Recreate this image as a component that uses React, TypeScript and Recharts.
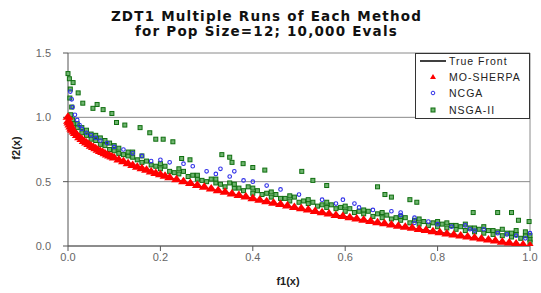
import React from "react";
import {
  ScatterChart,
  Scatter,
  XAxis,
  YAxis,
  CartesianGrid,
  ReferenceLine,
  Legend,
  Label,
} from "recharts";

// f1 / f2 pairs
const frontF1 = [0, 0.01, 0.02, 0.05, 0.1, 0.15, 0.2, 0.25, 0.3, 0.4, 0.5, 0.6, 0.7, 0.8, 0.9, 1.0];
const frontF2 = [1.0, 0.9, 0.86, 0.78, 0.68, 0.61, 0.55, 0.5, 0.45, 0.37, 0.29, 0.23, 0.16, 0.11, 0.05, 0.0];

const sherpaPoints: [number, number][] = [
  [0, 1.0], [0.001, 0.97], [0.002, 0.955], [0.004, 0.94], [0.006, 0.925], [0.008, 0.91],
  [0.01, 0.9], [0.013, 0.886], [0.016, 0.874], [0.02, 0.859], [0.025, 0.842], [0.03, 0.827],
  [0.035, 0.813], [0.04, 0.8], [0.045, 0.788], [0.05, 0.776], [0.055, 0.765], [0.06, 0.755],
  [0.065, 0.745], [0.07, 0.735], [0.075, 0.726], [0.08, 0.717], [0.085, 0.708], [0.09, 0.7],
  [0.095, 0.692], [0.1, 0.684], [0.11, 0.668], [0.12, 0.654], [0.13, 0.639], [0.14, 0.626],
  [0.15, 0.613], [0.16, 0.6], [0.17, 0.588], [0.18, 0.576], [0.19, 0.564], [0.2, 0.553],
  [0.21, 0.542], [0.22, 0.531], [0.235, 0.515], [0.25, 0.5], [0.265, 0.485], [0.28, 0.471],
  [0.295, 0.457], [0.31, 0.443], [0.325, 0.43], [0.34, 0.417], [0.355, 0.404], [0.37, 0.392],
  [0.385, 0.38], [0.4, 0.368], [0.415, 0.356], [0.43, 0.344], [0.445, 0.333], [0.46, 0.322],
  [0.475, 0.311], [0.49, 0.3], [0.505, 0.289], [0.52, 0.279], [0.535, 0.269], [0.55, 0.258],
  [0.565, 0.248], [0.58, 0.238], [0.595, 0.229], [0.61, 0.219], [0.625, 0.209], [0.64, 0.2],
  [0.655, 0.191], [0.67, 0.181], [0.685, 0.172], [0.7, 0.163], [0.715, 0.154], [0.73, 0.146],
  [0.745, 0.137], [0.76, 0.128], [0.775, 0.12], [0.79, 0.111], [0.805, 0.103], [0.82, 0.094],
  [0.835, 0.086], [0.85, 0.078], [0.865, 0.07], [0.88, 0.062], [0.895, 0.054], [0.91, 0.046],
  [0.925, 0.038], [0.94, 0.03], [0.955, 0.023], [0.97, 0.015], [0.985, 0.008], [1.0, 0.0],
];

const ncgaPoints: [number, number][] = [
  [0.005, 1.2], [0.008, 1.14], [0.01, 1.08], [0.015, 1.02], [0.02, 0.98], [0.025, 0.94],
  [0.03, 0.91], [0.04, 0.88], [0.05, 0.86], [0.06, 0.84], [0.07, 0.82], [0.085, 0.8],
  [0.1, 0.77], [0.12, 0.75], [0.14, 0.72], [0.16, 0.7], [0.18, 0.66], [0.2, 0.67],
  [0.22, 0.65], [0.25, 0.64], [0.27, 0.62], [0.3, 0.58], [0.32, 0.56], [0.33, 0.6],
  [0.35, 0.54], [0.36, 0.58], [0.38, 0.51], [0.4, 0.5], [0.43, 0.47], [0.46, 0.44],
  [0.5, 0.4], [0.55, 0.36], [0.58, 0.33], [0.595, 0.36], [0.62, 0.33], [0.63, 0.3],
  [0.66, 0.28], [0.7, 0.27], [0.72, 0.26], [0.72, 0.24], [0.75, 0.22], [0.75, 0.18],
  [0.78, 0.19], [0.8, 0.17], [0.83, 0.15], [0.86, 0.16], [0.87, 0.13], [0.88, 0.12],
  [0.9, 0.13], [0.93, 0.1], [0.95, 0.09], [0.97, 0.08], [0.99, 0.06], [1.0, 0.1],
];

const nsgaPoints: [number, number][] = [
  // cluster near f1 = 0
  [0.0, 1.34], [0.003, 1.3], [0.011, 1.27], [0.005, 1.22], [0.022, 1.19], [0.004, 1.15],
  [0.032, 1.11], [0.008, 1.08], [0.054, 1.07], [0.006, 1.02], [0.01, 0.98], [0.014, 0.95],
  // main band above the front
  [0.02, 0.92], [0.02, 0.95], [0.03, 0.88], [0.03, 0.92], [0.04, 0.86], [0.04, 0.9],
  [0.05, 0.83], [0.05, 0.87], [0.06, 0.82], [0.06, 0.86], [0.07, 0.79], [0.07, 0.84],
  [0.08, 0.78], [0.08, 0.82], [0.09, 0.75], [0.09, 0.8], [0.1, 0.74], [0.1, 0.78],
  [0.11, 0.72], [0.11, 0.76], [0.12, 0.71], [0.13, 0.7], [0.13, 0.73], [0.14, 0.69],
  [0.14, 0.73], [0.15, 0.67], [0.16, 0.65], [0.16, 0.7], [0.17, 0.66], [0.18, 0.63],
  [0.19, 0.62], [0.2, 0.6], [0.2, 0.64], [0.21, 0.62], [0.22, 0.58], [0.23, 0.57],
  [0.24, 0.56], [0.24, 0.6], [0.25, 0.58], [0.26, 0.54], [0.27, 0.55], [0.28, 0.52],
  [0.28, 0.55], [0.29, 0.51], [0.3, 0.5], [0.31, 0.52], [0.32, 0.49], [0.32, 0.52],
  [0.33, 0.48], [0.34, 0.46], [0.35, 0.49], [0.36, 0.45], [0.36, 0.48], [0.37, 0.45],
  [0.38, 0.43], [0.39, 0.46], [0.4, 0.41], [0.4, 0.45], [0.41, 0.43], [0.42, 0.4],
  [0.43, 0.41], [0.44, 0.38], [0.44, 0.42], [0.45, 0.4], [0.46, 0.37], [0.47, 0.37],
  [0.48, 0.35], [0.48, 0.39], [0.49, 0.38], [0.5, 0.34], [0.51, 0.35], [0.52, 0.33],
  [0.52, 0.36], [0.53, 0.34], [0.54, 0.31], [0.55, 0.32], [0.56, 0.3], [0.56, 0.34],
  [0.57, 0.32], [0.58, 0.29], [0.59, 0.3], [0.6, 0.27], [0.6, 0.31], [0.61, 0.29],
  [0.62, 0.26], [0.63, 0.27], [0.64, 0.25], [0.64, 0.28], [0.65, 0.27], [0.66, 0.23],
  [0.67, 0.25], [0.68, 0.22], [0.68, 0.26], [0.69, 0.24], [0.7, 0.21], [0.71, 0.22],
  [0.72, 0.2], [0.72, 0.23], [0.73, 0.22], [0.74, 0.18], [0.75, 0.2], [0.76, 0.17],
  [0.76, 0.21], [0.77, 0.19], [0.78, 0.16], [0.79, 0.18], [0.8, 0.15], [0.8, 0.19],
  [0.81, 0.17], [0.82, 0.14], [0.82, 0.18], [0.83, 0.16], [0.84, 0.13], [0.84, 0.16],
  [0.85, 0.15], [0.86, 0.12], [0.86, 0.17], [0.87, 0.14], [0.88, 0.11], [0.88, 0.14],
  [0.89, 0.13], [0.9, 0.1], [0.9, 0.15], [0.91, 0.12], [0.92, 0.09], [0.92, 0.12],
  [0.93, 0.11], [0.94, 0.08], [0.94, 0.13], [0.95, 0.1], [0.96, 0.07], [0.96, 0.1],
  [0.97, 0.09], [0.97, 0.12], [0.98, 0.06], [0.99, 0.08], [0.99, 0.11], [1.0, 0.05],
  [1.0, 0.03], [1.0, 0.08],
  // outliers
  [0.063, 1.1], [0.076, 1.06], [0.095, 1.03], [0.105, 0.96], [0.123, 0.94], [0.156, 0.92],
  [0.177, 0.88], [0.19, 0.83], [0.206, 0.83], [0.227, 0.81], [0.246, 0.68], [0.264, 0.67],
  [0.333, 0.71], [0.35, 0.69], [0.355, 0.65], [0.379, 0.64], [0.4, 0.61], [0.426, 0.59],
  [0.506, 0.58], [0.53, 0.51], [0.56, 0.47], [0.67, 0.46], [0.686, 0.4], [0.7, 0.38],
  [0.74, 0.36], [0.755, 0.34], [0.877, 0.26], [0.93, 0.26], [0.96, 0.26], [0.975, 0.2],
  [0.998, 0.19],
];

const xTicks = [0, 0.2, 0.4, 0.6, 0.8, 1.0];
const yTicks = [0, 0.5, 1.0, 1.5];

const titleLines = ["ZDT1 Multiple Runs of Each Method", "for Pop Size=12; 10,000 Evals"];
const legendNames = ["True Front", "MO-SHERPA", "NCGA", "NSGA-II"];

const toRows = (pts: [number, number][]) => pts.map(([f1, f2]) => ({ f1, f2 }));
const frontRows = frontF1.map((f1, i) => ({ f1, f2: frontF2[i] }));

const RED = "#ff0000";
const BLUE = "#2f2fe8";
const GREEN = "#0f6e0f";
const GREEN_FILL = "#6fb46f";

// wide, flat triangles so neighbouring markers merge into a solid band
const Triangle = (p: any) => (
  <polygon
    points={`${p.cx},${p.cy - 5} ${p.cx - 5.5},${p.cy + 2.5} ${p.cx + 5.5},${p.cy + 2.5}`}
    fill={RED}
  />
);
const SmallCircle = (p: any) => (
  <circle cx={p.cx} cy={p.cy} r={1.8} fill="none" stroke={BLUE} strokeWidth={1.1} />
);
const Square = (p: any) => (
  <rect x={p.cx - 2} y={p.cy - 2} width={4} height={4} fill={GREEN_FILL} stroke={GREEN} strokeWidth={1} />
);
const NoShape = () => <g />;

const font = "'Liberation Sans', Arial, sans-serif";
const wideFont = "'DejaVu Sans', Verdana, sans-serif";

function LegendBox() {
  const marks = [
    <line key="l" x1={5} x2={31} y1={8} y2={8} stroke="#000" strokeWidth={1.5} />,
    <polygon key="t" points="18,21 15,26 21,26" fill={RED} />,
    <circle key="c" cx={18} cy={40} r={1.8} fill="none" stroke={BLUE} />,
    <rect key="s" x={16} y={55} width={4} height={4} fill={GREEN_FILL} stroke={GREEN} />,
  ];
  const rowY = [8, 24, 40, 57];
  return (
    <svg width={115} height={66} style={{ display: "block" }}>
      <rect x={0.5} y={0.5} width={114} height={65} fill="#fff" stroke="#333" />
      {marks}
      {legendNames.map((n, i) => (
        <text
          key={n}
          x={34}
          y={rowY[i]}
          dominantBaseline="central"
          fontSize={10.5}
          letterSpacing={1}
          fontFamily={font}
          fill="#222"
        >
          {n}
        </text>
      ))}
    </svg>
  );
}

export default function App() {
  return (
    <div style={{ position: "absolute", left: 0, top: 0, width: 541, height: 293, background: "#fff" }}>
      <div
        style={{
          position: "absolute",
          left: 0,
          top: 9,
          width: 533,
          textAlign: "center",
          fontFamily: wideFont,
          fontWeight: "bold",
          fontSize: 13.5,
          lineHeight: "15px",
          letterSpacing: 1.2,
          color: "#111",
        }}
      >
        {titleLines.map((t) => (
          <div key={t}>{t}</div>
        ))}
      </div>
      <ScatterChart width={541} height={293} margin={{ top: 53, right: 11, bottom: 0, left: 0 }}>
        <CartesianGrid vertical={false} horizontalValues={yTicks} stroke="#8a8a8a" />
        <XAxis
          type="number"
          dataKey="f1"
          domain={[0, 1]}
          ticks={xTicks}
          tickFormatter={(v: number) => v.toFixed(1)}
          height={47}
          stroke="#555"
          tickSize={5}
          tickMargin={2}
          tick={{ fontSize: 11, fill: "#666", fontFamily: font }}
        >
          <Label
            content={() => (
              <text x={288} y={285} textAnchor="middle" fontSize={11} fontWeight="bold" fontFamily={font} fill="#222">
                f1(x)
              </text>
            )}
          />
        </XAxis>
        <YAxis
          type="number"
          dataKey="f2"
          domain={[0, 1.5]}
          ticks={yTicks}
          allowDataOverflow
          tickFormatter={(v: number) => v.toFixed(1)}
          width={68}
          stroke="#555"
          tickSize={5}
          tickMargin={12}
          tick={{ fontSize: 11, fill: "#666", fontFamily: font }}
        >
          <Label
            content={() => (
              <text
                x={16}
                y={148}
                transform="rotate(-90 16 148)"
                textAnchor="middle"
                dominantBaseline="central"
                fontSize={11}
                fontWeight="bold"
                fontFamily={font}
                fill="#222"
              >
                f2(x)
              </text>
            )}
          />
        </YAxis>
        <ReferenceLine x={1} stroke="#8a8a8a" />
        <Scatter
          name="True Front"
          data={frontRows}
          line={{ stroke: "#000", strokeWidth: 1 }}
          shape={NoShape}
          isAnimationActive={false}
        />
        <Scatter name="NSGA-II" data={toRows(nsgaPoints)} shape={Square} isAnimationActive={false} />
        <Scatter name="NCGA" data={toRows(ncgaPoints)} shape={SmallCircle} isAnimationActive={false} />
        <Scatter name="MO-SHERPA" data={toRows(sherpaPoints)} shape={Triangle} isAnimationActive={false} />
        <Legend
          verticalAlign="middle"
          content={() => <LegendBox />}
          wrapperStyle={{ position: "absolute", left: 415, top: 53, width: 115, height: 66 }}
        />
      </ScatterChart>
    </div>
  );
}
